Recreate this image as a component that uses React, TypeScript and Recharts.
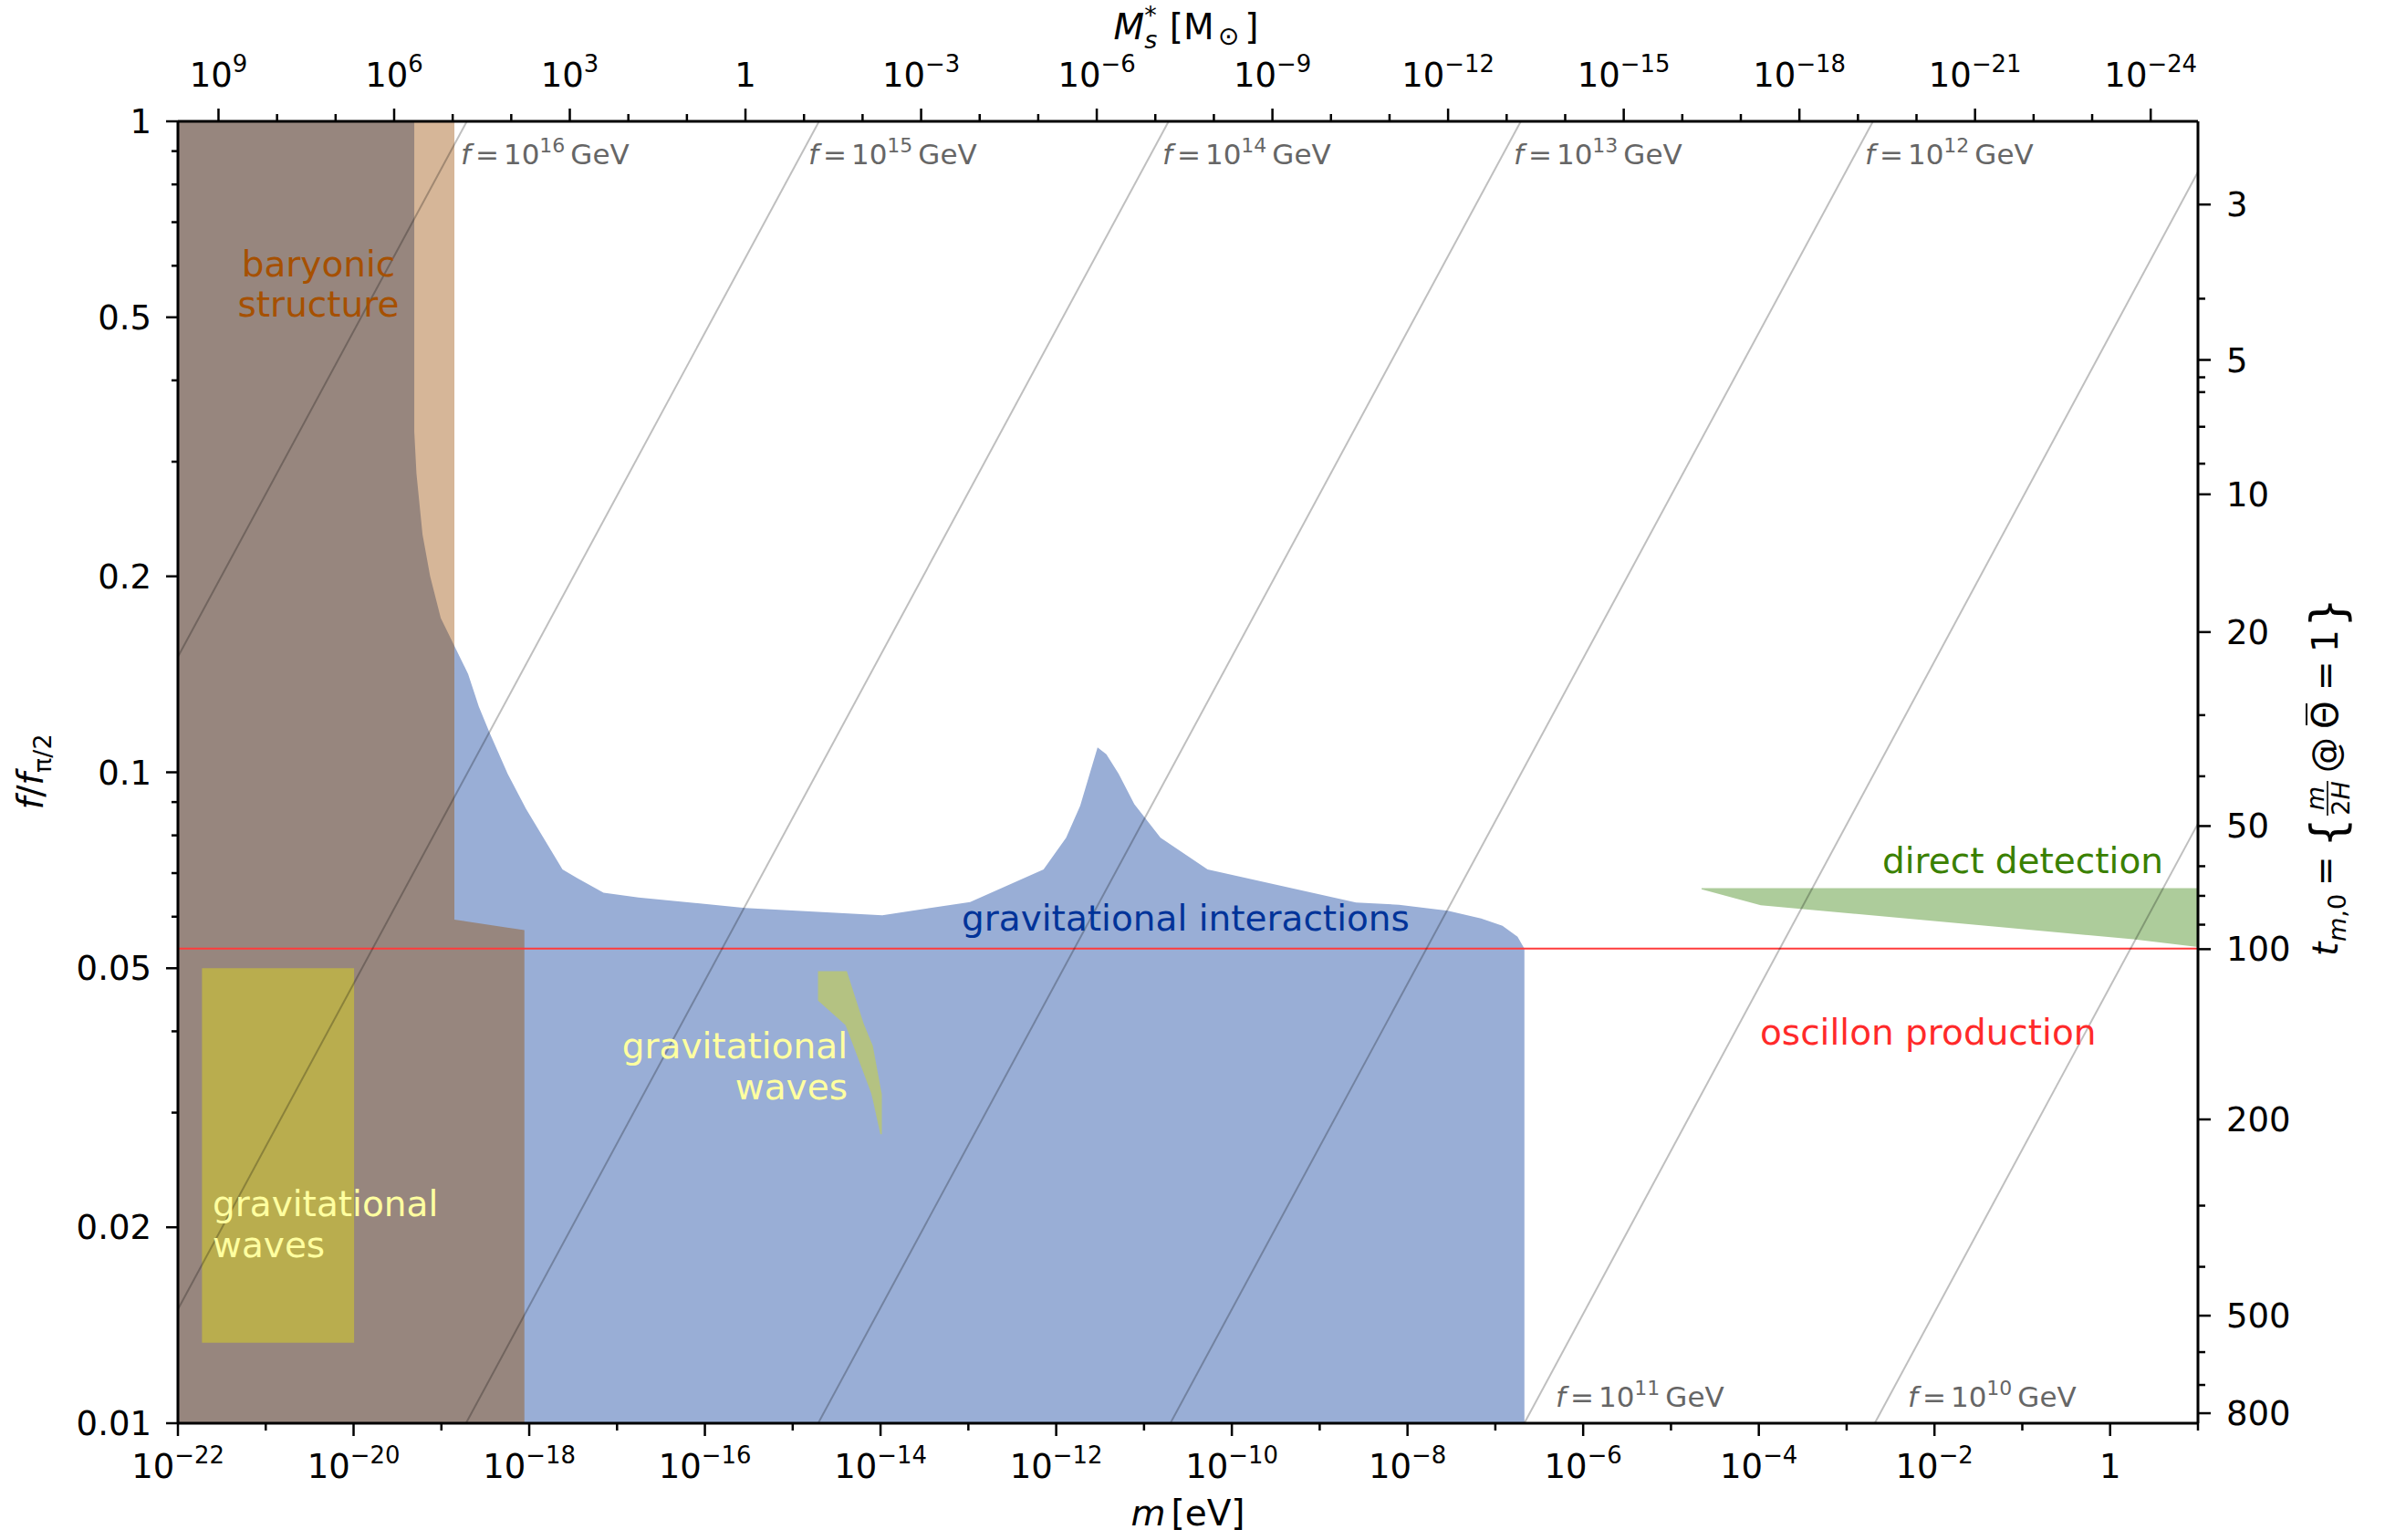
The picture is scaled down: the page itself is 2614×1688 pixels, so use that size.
import React from "react"
import { ComposedChart, Area, Line, XAxis, YAxis } from "recharts"

const W = 2614
const H = 1688
const FONT = "DejaVu Sans, sans-serif"

// x axis: m [eV] (log), y axis: f / f_pi/2 (log)
const bottomExp = [-22, -21, -20, -19, -18, -17, -16, -15, -14, -13, -12, -11, -10, -9, -8, -7, -6, -5, -4, -3, -2, -1, 0, 1]
const bottomLabelled = [-22, -20, -18, -16, -14, -12, -10, -8, -6, -4, -2, 0]

// top axis: M_s^* [M_sun], one tick per decade of M
const topMassExp = [9, 8, 7, 6, 5, 4, 3, 2, 1, 0, -1, -2, -3, -4, -5, -6, -7, -8, -9, -10, -11, -12, -13, -14, -15, -16, -17, -18, -19, -20, -21, -22, -23, -24]
const topLabelled = [9, 6, 3, 0, -3, -6, -9, -12, -15, -18, -21, -24]
const massToLogM = (e: number) => -15.538 - (2 / 3) * e

const leftMajor = [1, 0.5, 0.2, 0.1, 0.05, 0.02, 0.01]
const leftMinor = [0.9, 0.8, 0.7, 0.6, 0.4, 0.3, 0.09, 0.08, 0.07, 0.06, 0.04, 0.03]

// right axis: t_{m,0} labels and where they sit on f/f_pi/2
const rightMajorT = [3, 5, 10, 20, 50, 100, 200, 500, 800]
const rightMajorF = [0.7451, 0.43, 0.2673, 0.1642, 0.08268, 0.05349, 0.02929, 0.01463, 0.01036]
const rightMinorF = [0.534, 0.4044, 0.3837, 0.3395, 0.2979, 0.1224, 0.0986, 0.07173, 0.06459, 0.05833, 0.02159, 0.01739, 0.01286, 0.01145]

// regions: [log10 m, f low, f high]
const tanRegion = [
  [-19.45, 0.15, 1],
  [-18.852, 0.15, 1],
]
const brownRegion = [
  [-22, 0.01, 1],
  [-19.309, 0.01, 1],
  [-19.309, 0.01, 0.334],
  [-19.284, 0.01, 0.2878],
  [-19.215, 0.01, 0.2319],
  [-19.128, 0.01, 0.1999],
  [-19.007, 0.01, 0.1725],
  [-18.852, 0.01, 0.1564],
  [-18.852, 0.01, 0.0594],
  [-18.055, 0.01, 0.0572],
]
const blueTop = [
  [-18.852, 0.1564], [-18.696, 0.1416], [-18.574, 0.1262], [-18.453, 0.1152], [-18.245, 0.0994],
  [-18.037, 0.0879], [-17.621, 0.0709], [-17.449, 0.0687], [-17.154, 0.0653], [-16.756, 0.0642],
  [-15.54, 0.0619], [-13.98, 0.0603], [-13.12, 0.0628], [-12.98, 0.0632], [-12.144, 0.0709],
  [-11.887, 0.0793], [-11.727, 0.0888], [-11.529, 0.1092], [-11.429, 0.1066], [-11.29, 0.0995],
  [-11.11, 0.0893], [-10.812, 0.0793], [-10.276, 0.0709], [-8.586, 0.0631], [-8.097, 0.0626],
  [-7.542, 0.0613], [-7.162, 0.0596], [-6.919, 0.0581], [-6.747, 0.0559], [-6.677, 0.0538],
  [-6.669, 0.0537],
]
const gwBox = [
  [-21.726, 0.0133, 0.05],
  [-19.994, 0.0133, 0.05],
]
const gwSliver = [
  [-14.712, 0.0446, 0.0495],
  [-14.4, 0.0409, 0.0495],
  [-14.384, 0.0404, 0.0495],
  [-14.192, 0.0345, 0.0411],
  [-14.106, 0.0321, 0.0385],
  [-14.088, 0.0314, 0.038],
  [-14.002, 0.0278, 0.0329],
  [-13.985, 0.0278, 0.032],
]
const directDetection = [
  [-4.652, 0.0661, 0.0664],
  [-3.978, 0.0625, 0.0664],
  [0.263, 0.0554, 0.0664],
  [1.0, 0.0539, 0.0664],
]
const oscillonF = 0.0536

// constant-f lines: f = 10^k GeV, m where f/f_pi/2 = 0.01 and = 1
const fLineExp = [16, 15, 14, 13, 12, 11, 10]
const fLineLogMBottom = [-26.71, -22.7, -18.72, -14.71, -10.7, -6.67, -2.68]
const fLineLogMTop = [-18.71, -14.7, -10.72, -6.71, -2.7, 1.31, 5.31]

const range = (rows: number[][]) => rows.map(([lm, lo, hi]) => ({ m: 10 ** lm, r: [lo, hi] }))
const blueData = blueTop.map(([lm, hi]) => ({ m: 10 ** lm, r: [0.01, hi] }))
const decade = (e: number) => Number(`1e${e}`)

function Pow({ x, y, e, size, anchor = "middle" }: any) {
  if (e === 0)
    return (
      <text x={x} y={y} textAnchor={anchor} fontSize={size} fontFamily={FONT} fill="#000">
        1
      </text>
    )
  const s = e < 0 ? `\u2212${-e}` : `${e}`
  return (
    <text x={x} y={y} textAnchor={anchor} fontSize={size} fontFamily={FONT} fill="#000">
      10
      <tspan dy={-size * 0.42} fontSize={size * 0.7}>
        {s}
      </tspan>
    </text>
  )
}

function BottomTick(props: any) {
  const { x, y, payload } = props
  const e = Math.round(Math.log10(payload.value))
  const major = bottomLabelled.includes(e)
  return (
    <g>
      <line x1={x} x2={x} y1={y} y2={y + (major ? 14 : 8)} stroke="#000" strokeWidth={2.5} />
      {major && <Pow x={x} y={y + 60} e={e} size={37} />}
    </g>
  )
}

function TopTick(props: any) {
  const { x, y, index } = props
  const e = topMassExp[index]
  const major = topLabelled.includes(e)
  return (
    <g>
      <line x1={x} x2={x} y1={y} y2={y - (major ? 14 : 8)} stroke="#000" strokeWidth={2.5} />
      {major && <Pow x={x} y={y - 38} e={e} size={37} />}
    </g>
  )
}

function LeftTick(props: any) {
  const { x, y, payload } = props
  const v = payload.value
  const major = leftMajor.includes(v)
  return (
    <g>
      <line x1={x - (major ? 13 : 7)} x2={x} y1={y} y2={y} stroke="#000" strokeWidth={2.5} />
      {major && (
        <text x={x - 29} y={y + 13} textAnchor="end" fontSize={37} fontFamily={FONT} fill="#000">
          {String(v)}
        </text>
      )}
    </g>
  )
}

function RightTick(props: any) {
  const { x, y, payload } = props
  const i = rightMajorF.indexOf(payload.value)
  const major = i >= 0
  return (
    <g>
      <line x1={x} x2={x + (major ? 14 : 8)} y1={y} y2={y} stroke="#000" strokeWidth={2.5} />
      {major && (
        <text x={x + 31} y={y + 13} textAnchor="start" fontSize={37} fontFamily={FONT} fill="#000">
          {rightMajorT[i]}
        </text>
      )}
    </g>
  )
}

function FLabel({ x, y, k }: any) {
  return (
    <text x={x} y={y} fontSize={31} fontFamily={FONT} fill="#666">
      <tspan fontStyle="italic">f</tspan>
      <tspan dx={5}>=</tspan>
      <tspan dx={5}>10</tspan>
      <tspan dy={-13} fontSize={22}>
        {k}
      </tspan>
      <tspan dy={13} dx={6}>
        GeV
      </tspan>
    </text>
  )
}

const axisStyle = { stroke: "#000", strokeWidth: 3 }

export default function App() {
  const lineData = fLineExp.map((k, i) => [
    { m: 10 ** fLineLogMBottom[i], f: 0.01 },
    { m: 10 ** fLineLogMTop[i], f: 1 },
  ])
  return (
    <div style={{ position: "absolute", left: 0, top: 0, width: W, height: H, background: "#fff" }}>
      <ComposedChart width={W} height={H} margin={{ top: 0, right: 0, bottom: 0, left: 0 }}>
        <XAxis
          xAxisId="b"
          dataKey="m"
          type="number"
          scale="log"
          domain={[1e-22, 10]}
          allowDataOverflow
          orientation="bottom"
          height={128}
          ticks={bottomExp.map(decade)}
          interval={0}
          tickSize={0}
          tickMargin={0}
          tickLine={false}
          axisLine={axisStyle}
          tick={(p: any) => <BottomTick {...p} />}
        />
        <XAxis
          xAxisId="t"
          dataKey="m"
          type="number"
          scale="log"
          domain={[1e-22, 10]}
          allowDataOverflow
          orientation="top"
          height={133}
          ticks={topMassExp.map((e) => 10 ** massToLogM(e))}
          interval={0}
          tickSize={0}
          tickMargin={0}
          tickLine={false}
          axisLine={axisStyle}
          tick={(p: any) => <TopTick {...p} />}
        />
        <YAxis
          yAxisId="l"
          type="number"
          scale="log"
          domain={[0.01, 1]}
          allowDataOverflow
          orientation="left"
          width={195}
          ticks={[...leftMajor, ...leftMinor].sort((a, b) => a - b)}
          interval={0}
          tickSize={0}
          tickMargin={0}
          tickLine={false}
          axisLine={axisStyle}
          tick={(p: any) => <LeftTick {...p} />}
        />
        <YAxis
          yAxisId="r"
          type="number"
          scale="log"
          domain={[0.01, 1]}
          allowDataOverflow
          orientation="right"
          width={205}
          ticks={[...rightMajorF, ...rightMinorF].sort((a, b) => a - b)}
          interval={0}
          tickSize={0}
          tickMargin={0}
          tickLine={false}
          axisLine={axisStyle}
          tick={(p: any) => <RightTick {...p} />}
        />
        <Area xAxisId="b" yAxisId="l" data={range(tanRegion)} dataKey="r" type="linear" fill="#d6b698" fillOpacity={1} stroke="none" isAnimationActive={false} />
        <Area xAxisId="b" yAxisId="l" data={blueData} dataKey="r" type="linear" fill="#99aed6" fillOpacity={1} stroke="none" isAnimationActive={false} />
        <Area xAxisId="b" yAxisId="l" data={range(brownRegion)} dataKey="r" type="linear" fill="#97867e" fillOpacity={1} stroke="none" isAnimationActive={false} />
        <Area xAxisId="b" yAxisId="l" data={range(gwBox)} dataKey="r" type="linear" fill="#b9ad4e" fillOpacity={1} stroke="none" isAnimationActive={false} />
        <Area xAxisId="b" yAxisId="l" data={range(gwSliver)} dataKey="r" type="linear" fill="#b4c282" fillOpacity={1} stroke="none" isAnimationActive={false} />
        <Area xAxisId="t" yAxisId="r" data={range(directDetection)} dataKey="r" type="linear" fill="#adcc9b" fillOpacity={1} stroke="none" isAnimationActive={false} />
        <Line
          xAxisId="t"
          yAxisId="r"
          data={[
            { m: 1e-22, f: oscillonF },
            { m: 10, f: oscillonF },
          ]}
          dataKey="f"
          type="linear"
          stroke="#ff3b3b"
          strokeWidth={2}
          dot={false}
          isAnimationActive={false}
        />
        {lineData.map((d, i) => (
          <Line
            key={fLineExp[i]}
            xAxisId="b"
            yAxisId="l"
            data={d}
            dataKey="f"
            type="linear"
            stroke="#000"
            strokeOpacity={0.25}
            strokeWidth={2}
            dot={false}
            isAnimationActive={false}
          />
        ))}
      </ComposedChart>

      <svg width={W} height={H} style={{ position: "absolute", left: 0, top: 0, pointerEvents: "none" }} fontFamily={FONT}>
        {/* constant-f labels */}
        <FLabel x={505} y={180} k={16} />
        <FLabel x={886} y={180} k={15} />
        <FLabel x={1274} y={180} k={14} />
        <FLabel x={1659} y={180} k={13} />
        <FLabel x={2044} y={180} k={12} />
        <FLabel x={1705} y={1542} k={11} />
        <FLabel x={2091} y={1542} k={10} />

        {/* region labels */}
        <text x={349} y={303} textAnchor="middle" fontSize={39} fill="#a65000">baryonic</text>
        <text x={349} y={347} textAnchor="middle" fontSize={39} fill="#a65000">structure</text>
        <text x={233} y={1333} fontSize={39} fill="#ffffa0">gravitational</text>
        <text x={233} y={1378} fontSize={39} fill="#ffffa0">waves</text>
        <text x={929} y={1160} textAnchor="end" fontSize={39} fill="#ffffa0">gravitational</text>
        <text x={929} y={1205} textAnchor="end" fontSize={39} fill="#ffffa0">waves</text>
        <text x={1054} y={1020} fontSize={39} fill="#003399">gravitational interactions</text>
        <text x={2371} y={957} textAnchor="end" fontSize={39} fill="#3a8000">direct detection</text>
        <text x={1929} y={1145} fontSize={39} fill="#ff2a2a">oscillon production</text>

        {/* axis titles */}
        <text x={1302} y={1672} textAnchor="middle" fontSize={39} fill="#000">
          <tspan fontStyle="italic">m</tspan>
          <tspan dx={6}>[eV]</tspan>
        </text>
        <text x={1300} y={43} textAnchor="middle" fontSize={39} fill="#000">
          <tspan fontStyle="italic">M</tspan>
          <tspan dy={10} fontSize={27} fontStyle="italic">s</tspan>
          <tspan dy={-27} dx={-14} fontSize={27}>*</tspan>
          <tspan dy={17} dx={14}>[M</tspan>
          <tspan dx={4} dy={6} fontSize={28}>{"\u2299"}</tspan>
          <tspan dx={6} dy={-6}>]</tspan>
        </text>
        <g transform="translate(47, 846) rotate(-90)">
          <text x={0} y={0} textAnchor="middle" fontSize={39} fill="#000">
            <tspan fontStyle="italic">f</tspan>/<tspan fontStyle="italic">f</tspan>
            <tspan dy={9} fontSize={27}>{"\u03c0/2"}</tspan>
          </text>
        </g>
        <g transform="translate(2562, 853) rotate(-90)" fill="#000">
          <text x={-195} y={0} fontSize={39} fontStyle="italic">t</text>
          <text x={-179} y={9} fontSize={27}>
            <tspan fontStyle="italic">m</tspan>,0
          </text>
          <text x={-118} y={0} fontSize={39}>=</text>
          <text x={-76} y={7} fontSize={52}>{"{"}</text>
          <text x={-22} y={-15} fontSize={27} fontStyle="italic" textAnchor="middle">m</text>
          <line x1={-41} x2={-3} y1={-11} y2={-11} stroke="#000" strokeWidth={1.6} />
          <text x={-22} y={13} fontSize={27} textAnchor="middle">
            2<tspan fontStyle="italic">H</tspan>
          </text>
          <text x={6} y={0} fontSize={39}>@</text>
          <text x={54} y={0} fontSize={39}>{"\u0398"}</text>
          <line x1={58} x2={82} y1={-34} y2={-34} stroke="#000" strokeWidth={2} />
          <text x={96} y={0} fontSize={39}>=</text>
          <text x={138} y={0} fontSize={39}>1</text>
          <text x={165} y={7} fontSize={52}>{"}"}</text>
        </g>
      </svg>
    </div>
  )
}
